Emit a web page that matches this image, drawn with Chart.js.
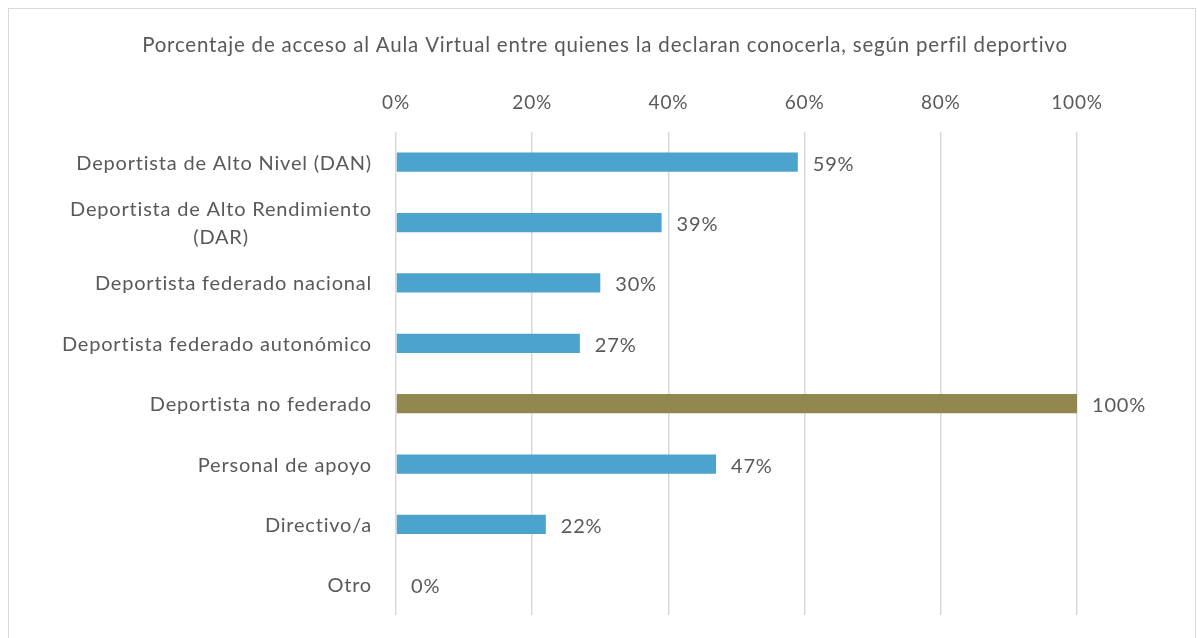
<!DOCTYPE html>
<html>
<head>
<meta charset="utf-8">
<script src="https://cdn.jsdelivr.net/npm/chart.js@4"></script>
<style>
  html, body { margin: 0; padding: 0; background: #fff; }
  #wrap { position: relative; width: 1197px; height: 638px; }
  #frame { position: absolute; left: 8px; top: 8px; width: 1188px; height: 640px;
           border: 1px solid #d9d9d9; box-sizing: border-box; pointer-events: none; }
</style>
</head>
<body>
<div id="wrap">
  <canvas id="chart" width="1197" height="638"></canvas>
  <div id="frame"></div>
</div>
<script>
// datos
const titulo = "Porcentaje de acceso al Aula Virtual entre quienes la declaran conocerla, según perfil deportivo";
const categorias = [
  "Deportista de Alto Nivel (DAN)",
  ["Deportista de Alto Rendimiento", "(DAR)"],
  "Deportista federado nacional",
  "Deportista federado autonómico",
  "Deportista no federado",
  "Personal de apoyo",
  "Directivo/a",
  "Otro"
];
const porcentajes = [59, 39, 30, 27, 100, 47, 22, 0];
const colores = ["#4BA3CE", "#4BA3CE", "#4BA3CE", "#4BA3CE", "#938750", "#4BA3CE", "#4BA3CE", "#4BA3CE"];
const ticksX = [0, 20, 40, 60, 80, 100];

const fuente = "Lato, 'Open Sans', sans-serif";
const gris = "#595959";

// espaciado de letras parecido al original
const espaciadoPlugin = {
  id: "espaciado",
  beforeDraw(chart) {
    chart.ctx.letterSpacing = "0.8px";
  }
};

// título, etiquetas del eje y y valores al final de cada barra
const etiquetasPlugin = {
  id: "etiquetas",
  afterDatasetsDraw(chart) {
    const ctx = chart.ctx;
    const y = chart.scales.y;
    const x = chart.scales.x;
    ctx.save();
    ctx.letterSpacing = "0.8px";
    ctx.fillStyle = gris;
    ctx.textBaseline = "middle";

    ctx.font = "20.5px " + fuente;
    ctx.textAlign = "left";
    const wt = ctx.measureText(titulo).width;
    ctx.fillText(titulo, 605 - wt / 2, 45);

    ctx.font = "20px " + fuente;
    categorias.forEach((cat, i) => {
      const py = y.getPixelForValue(i);
      if (Array.isArray(cat)) {
        const lh = 28;
        const w = Math.max(...cat.map(t => ctx.measureText(t).width));
        const cx = 372 - w / 2;
        ctx.textAlign = "center";
        cat.forEach((t, j) => {
          ctx.fillText(t, cx, py + (j - (cat.length - 1) / 2) * lh + 1);
        });
      } else {
        ctx.textAlign = "right";
        ctx.fillText(cat, 372, py + 1);
      }
      ctx.textAlign = "left";
      ctx.fillText(porcentajes[i] + "%", x.getPixelForValue(porcentajes[i]) + 15, py + 2);
    });
    ctx.restore();
  }
};

new Chart(document.getElementById("chart"), {
  type: "bar",
  data: {
    labels: categorias,
    datasets: [{
      data: porcentajes,
      backgroundColor: colores,
      barPercentage: 0.32,
      categoryPercentage: 1
    }]
  },
  options: {
    indexAxis: "y",
    responsive: false,
    animation: false,
    layout: { padding: { left: 8, right: 120, top: 58, bottom: 23 } },
    plugins: {
      legend: { display: false },
      tooltip: { enabled: false },
      title: { display: false }
    },
    scales: {
      x: {
        position: "top",
        min: 0,
        max: 100,
        afterBuildTicks: (axis) => { axis.ticks = ticksX.map(v => ({ value: v })); },
        afterFit: (axis) => { axis.height = 74; },
        grid: { color: "#d9d9d9", lineWidth: 1.5, drawTicks: false },
        border: { display: false },
        ticks: {
          color: gris,
          padding: 18,
          font: { family: fuente, size: 19 },
          callback: (v) => v + "%"
        }
      },
      y: {
        afterFit: (axis) => { axis.width = 388; },
        grid: { display: false, drawTicks: false },
        border: { display: false },
        ticks: { display: false }
      }
    }
  },
  plugins: [espaciadoPlugin, etiquetasPlugin]
});
</script>
</body>
</html>
